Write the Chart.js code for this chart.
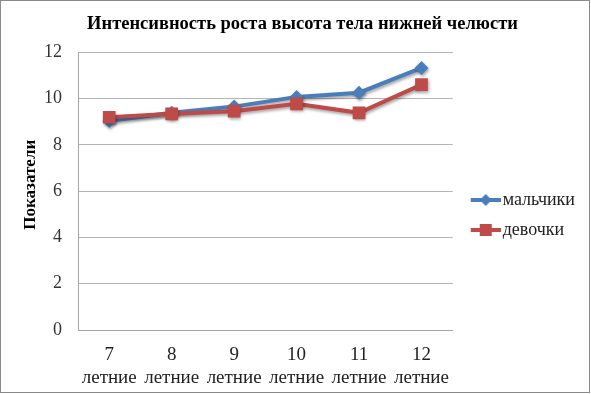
<!DOCTYPE html>
<html>
<head>
<meta charset="utf-8">
<script src="https://cdn.jsdelivr.net/npm/chart.js@4/dist/chart.umd.min.js"></script>
<style>
  html, body { margin: 0; padding: 0; background: #fff; }
  #wrap { position: relative; width: 590px; height: 393px; box-sizing: border-box; border: 1px solid #8a8a8a; }
  #chart { display: block; }
</style>
</head>
<body>
<div id="wrap"><canvas id="chart" width="588" height="391"></canvas></div>
<script>
// data
const ages = ['7', '8', '9', '10', '11', '12'];
const ageWord = 'летние';
const boys = [9.03, 9.38, 9.65, 10.07, 10.25, 11.32];
const girls = [9.19, 9.34, 9.45, 9.77, 9.38, 10.6];
const yTicks = [0, 2, 4, 6, 8, 10, 12];

const BLUE = '#4a7ebb';
const RED = '#be4b48';
const FONT = '"Liberation Serif", "Times New Roman", serif';

Chart.defaults.font.family = FONT;
Chart.defaults.color = '#222';

// legend icon: line with marker in the middle, blank strip on the left
function legendIcon(color, style) {
  const c = document.createElement('canvas');
  c.width = 43; c.height = 14;
  const g = c.getContext('2d');
  g.fillStyle = color;
  g.fillRect(13, 5, 30, 4);
  if (style === 'diamond') {
    g.beginPath();
    g.moveTo(28, 1); g.lineTo(34, 7); g.lineTo(28, 13); g.lineTo(22, 7);
    g.closePath(); g.fill();
  } else {
    g.fillRect(22, 1, 12, 12);
  }
  return c;
}
const icons = [legendIcon(BLUE, 'diamond'), legendIcon(RED, 'square')];

// soft drop shadow under the series like the office chart
const shadowPlugin = {
  id: 'shadow',
  beforeDatasetDraw(chart) {
    const ctx = chart.ctx;
    ctx.save();
    ctx.shadowColor = 'rgba(0,0,0,0.35)';
    ctx.shadowBlur = 3;
    ctx.shadowOffsetX = 1;
    ctx.shadowOffsetY = 2;
  },
  afterDatasetDraw(chart) {
    chart.ctx.restore();
  }
};

new Chart(document.getElementById('chart'), {
  type: 'line',
  data: {
    labels: ages.map(a => [a, ageWord]),
    datasets: [
      {
        label: 'мальчики',
        data: boys,
        borderColor: BLUE,
        backgroundColor: BLUE,
        borderWidth: 4,
        pointStyle: 'rectRot',
        pointRadius: 7,
        pointBorderWidth: 0,
        tension: 0,
        order: 1
      },
      {
        label: 'девочки',
        data: girls,
        borderColor: RED,
        backgroundColor: RED,
        borderWidth: 4,
        pointStyle: 'rect',
        pointRadius: 9,
        pointBorderWidth: 0,
        tension: 0,
        order: 0
      }
    ]
  },
  plugins: [shadowPlugin],
  options: {
    responsive: false,
    animation: false,
    layout: { padding: { left: 19, right: 4, top: 6, bottom: 0 } },
    plugins: {
      title: {
        display: true,
        text: 'Интенсивность роста высота тела нижней челюсти',
        font: { family: FONT, size: 18.5, weight: 'bold' },
        color: '#000',
        padding: { top: 6, bottom: 17 }
      },
      legend: {
        position: 'right',
        title: { display: true, text: '', font: { size: 10 }, padding: { top: 19, bottom: 0 } },
        labels: {
          usePointStyle: true,
          pointStyleWidth: 29,
          font: { family: FONT, size: 18 },
          color: '#000',
          padding: 12,
          boxHeight: 14,
          generateLabels(chart) {
            return chart.data.datasets.map((ds, i) => ({
              text: ds.label,
              pointStyle: icons[i],
              fillStyle: ds.borderColor,
              strokeStyle: ds.borderColor,
              lineWidth: 0,
              datasetIndex: i,
              hidden: false
            }));
          }
        }
      },
      tooltip: { enabled: false }
    },
    scales: {
      x: {
        offset: true,
        grid: { display: false, drawTicks: false },
        border: { display: true, color: '#a6a6a6' },
        ticks: { font: { family: FONT, size: 19, lineHeight: 1.2 }, padding: 14, maxRotation: 0, color: '#222' },
        afterFit(scale) { scale.height = 62; }
      },
      y: {
        min: 0,
        max: 12,
        afterBuildTicks(scale) {
          scale.ticks = yTicks.map(v => ({ value: v }));
        },
        afterFit(scale) { scale.width = 58; },
        grid: { color: '#b4b4b4', drawTicks: false },
        border: { display: true, color: '#a6a6a6' },
        ticks: { font: { family: FONT, size: 18 }, padding: 16, color: '#333' },
        title: {
          display: true,
          text: '\u00a0\u00a0\u00a0Показатели',
          font: { family: FONT, size: 17, weight: 'bold' },
          color: '#000',
          padding: { top: 0, bottom: 4 }
        }
      }
    }
  }
});
</script>
</body>
</html>
